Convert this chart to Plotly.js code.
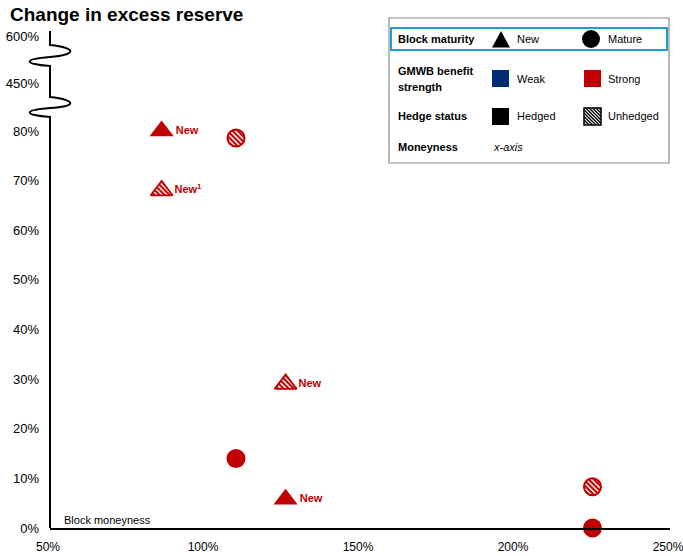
<!DOCTYPE html>
<html><head><meta charset="utf-8">
<script src="https://cdn.plot.ly/plotly-3.0.1.min.js"></script>
<style>body{margin:0;background:#fff;} #chart{width:683px;height:556px;}</style>
</head><body>
<svg width="0" height="0" style="position:absolute">
<defs>
<pattern id="hatchRed" patternUnits="userSpaceOnUse" width="3.6" height="3.6" patternTransform="rotate(-45)">
<rect width="3.6" height="3.6" fill="#C00000"/>
<rect x="0" y="0" width="1.5" height="3.6" fill="#ffffff"/>
</pattern>
</defs></svg>
<div id="chart"></div>
<script>
// ---- data ----
const moneynessNewHedged = [0.86, 1.26];
const excessNewHedged = [0.80, 0.058];
const labelsNewHedged = ['New', 'New'];

const moneynessNewUnhedged = [0.86, 1.26];
const excessNewUnhedged = [0.68, 0.29];
const labelsNewUnhedged = ['New<sup>1</sup>', 'New'];

const moneynessMatureHedged = [1.10, 2.25];
const excessMatureHedged = [0.14, 0.0];

const moneynessMatureUnhedged = [1.10, 2.25];
const excessMatureUnhedged = [0.786, 0.083];

const xTicks = [0.5, 1.0, 1.5, 2.0, 2.5];
const yTicks = [0, 0.1, 0.2, 0.3, 0.4, 0.5, 0.6, 0.7, 0.8];
const yBreakTicks = [4.5, 6.0];

// ---- layout helpers ----
const W = 683, H = 556, L = 50, R = 13, T = 28, B = 28;
const PW = W - L - R, PH = H - T - B;
const px = x => (x - L) / PW;
const py = y => (H - B - y) / PH;
const P = (x, y) => px(x).toFixed(5) + ',' + py(y).toFixed(5);

const RED = '#C00000', BLUE = '#002D72';
const FONT = 'Liberation Sans, Arial, sans-serif';

const traces = [
  {x: moneynessNewHedged, y: excessNewHedged, text: labelsNewHedged, mode: 'markers+text',
   textposition: 'middle right', cliponaxis: false,
   textfont: {color: RED, size: 11, family: FONT, weight: 'bold'},
   marker: {symbol: 'triangle-up', size: 21, color: RED, line: {width: 0}}},
  {x: moneynessNewUnhedged, y: excessNewUnhedged, text: labelsNewUnhedged, mode: 'markers+text',
   textposition: 'middle right', cliponaxis: false,
   textfont: {color: RED, size: 11, family: FONT, weight: 'bold'},
   marker: {symbol: 'triangle-up', size: 19, color: RED, line: {width: 1.8, color: RED}}},
  {x: moneynessMatureHedged, y: excessMatureHedged, mode: 'markers', cliponaxis: false,
   marker: {symbol: 'circle', size: 19, color: RED, line: {width: 0}}},
  {x: moneynessMatureUnhedged, y: excessMatureUnhedged, mode: 'markers', cliponaxis: false,
   marker: {symbol: 'circle', size: 17, color: RED, line: {width: 2, color: RED}}},
  // empty trace so the upper (broken) axis segment is drawn
  {x: [null], y: [null], yaxis: 'y2', mode: 'markers', hoverinfo: 'skip', marker: {opacity: 0}}
];

// left axis with two breaks
const axisPath = 'M' + P(50, 31) + ' L' + P(50, 45) +
  ' C' + P(78, 48) + ' ' + P(76, 55) + ' ' + P(50, 57) +
  ' C' + P(24, 59) + ' ' + P(22, 64) + ' ' + P(50, 66) +
  ' L' + P(50, 97) +
  ' C' + P(78, 100) + ' ' + P(76, 107) + ' ' + P(50, 108) +
  ' C' + P(24, 110) + ' ' + P(22, 115) + ' ' + P(50, 117) +
  ' L' + P(50, 528);

function rect(x0, y0, x1, y1, fill, lineColor, lw) {
  return {type: 'rect', xref: 'paper', yref: 'paper', x0: px(x0), x1: px(x1), y0: py(y1), y1: py(y0),
    fillcolor: fill, line: {color: lineColor || fill, width: lw === undefined ? 0 : lw}};
}
function hatchLines(x0, y0, s, step) {
  let d = '';
  for (let k = -s + step / 2; k < s; k += step) {
    const xa = x0 + Math.max(0, -k), xb = x0 + Math.min(s, s - k);
    d += 'M' + P(xa, y0 + (xa - x0) + k) + ' L' + P(xb, y0 + (xb - x0) + k) + ' ';
  }
  return d;
}

const shapes = [
  {type: 'path', xref: 'paper', yref: 'paper', path: axisPath, line: {color: '#000', width: 2}},
  rect(389, 18, 669, 163, 'rgba(0,0,0,0)', '#8c8c8c', 1.2),
  rect(391, 28, 667, 50, 'rgba(0,0,0,0)', '#1E9BD7', 2),
  {type: 'path', xref: 'paper', yref: 'paper', path: 'M' + P(492, 47.5) + ' L' + P(510, 47.5) + ' L' + P(501, 31) + ' Z',
   fillcolor: '#000', line: {width: 0}},
  {type: 'circle', xref: 'paper', yref: 'paper', x0: px(582), x1: px(600), y0: py(48), y1: py(30),
   fillcolor: '#000', line: {width: 0}},
  rect(492, 70, 509, 87, BLUE),
  rect(584, 70, 601, 87, RED),
  rect(492, 108, 509, 125, '#000'),
  rect(584, 108, 601, 125, '#fff', '#000', 1.5),
  {type: 'path', xref: 'paper', yref: 'paper', path: hatchLines(584, 108, 17, 3.4), line: {color: '#000', width: 1.4}}
];

function ann(text, x, y, opts) {
  return Object.assign({text: text, xref: 'paper', yref: 'paper', x: px(x), y: py(y),
    xanchor: 'left', yanchor: 'middle', showarrow: false,
    font: {family: FONT, size: 11, color: '#000'}}, opts || {});
}
const boldF = {family: FONT, size: 11, color: '#000', weight: 'bold'};
const annotations = [
  ann('Block moneyness', 62, 520, {font: {family: FONT, size: 11, color: '#000'}}),
  ann('Block maturity', 396, 39, {font: boldF}),
  ann('New', 515, 39),
  ann('Mature', 606, 39),
  ann('GMWB benefit', 396, 71, {font: boldF}),
  ann('strength', 396, 87, {font: boldF}),
  ann('Weak', 515, 79),
  ann('Strong', 606, 79),
  ann('Hedge status', 396, 116, {font: boldF}),
  ann('Hedged', 515, 116),
  ann('Unhedged', 606, 116),
  ann('Moneyness', 396, 147, {font: boldF}),
  ann('<i>x-axis</i>', 491, 147)
];

const layout = {
  width: W, height: H,
  margin: {l: L, r: R, t: T, b: B},
  paper_bgcolor: '#fff', plot_bgcolor: '#fff',
  showlegend: false,
  font: {family: FONT, size: 12, color: '#000'},
  title: {text: 'Change in excess reserve', xref: 'container', yref: 'container',
    x: 10 / W, xanchor: 'left', y: 1 - 14 / H, yanchor: 'middle',
    font: {family: FONT, size: 19, color: '#000', weight: 'bold'}},
  xaxis: {range: [0.4999, 2.5001], tickvals: xTicks, tickformat: '.0%', showgrid: false, zeroline: false,
    showline: true, linecolor: '#000', linewidth: 2, ticks: '', tickfont: {size: 12}, ticklabelstandoff: 7,
    ticklabelshift: -2, ticklabeloverflow: 'allow', fixedrange: true},
  yaxis: {domain: [0, py(117)], range: [0, 0.8 + (131 - 117) / 496], tickvals: yTicks, tickformat: '.0%',
    showgrid: false, zeroline: false, showline: false, ticks: '', tickfont: {size: 13}, ticklabelstandoff: 10, fixedrange: true},
  yaxis2: {domain: [py(97), 1], range: [4.5 - 14 / 31.33, 6.0 + 8 / 31.33], tickvals: yBreakTicks, tickformat: '.0%',
    anchor: 'x', showgrid: false, zeroline: false, showline: false, ticks: '', tickfont: {size: 13}, ticklabelstandoff: 10, fixedrange: true},
  shapes: shapes,
  annotations: annotations
};

Plotly.newPlot('chart', traces, layout, {displayModeBar: false, staticPlot: true}).then(function () {
  const tr = document.querySelectorAll('#chart .scatterlayer .trace');
  [1, 3].forEach(function (i) {
    if (!tr[i]) return;
    tr[i].querySelectorAll('path.point').forEach(function (p) { p.style.fill = 'url(#hatchRed)'; });
  });
});
</script>
</body></html>
